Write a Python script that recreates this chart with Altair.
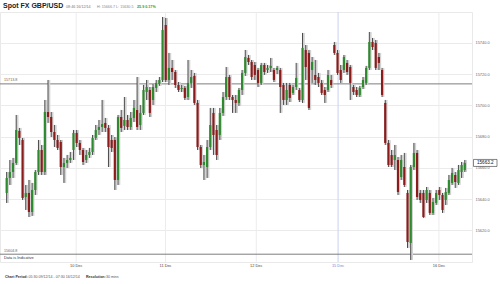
import altair as alt
import pandas as pd

# ---- candle data (GBP/USD spot, x10000, one candle per slot) ----
opens = [
    15644.0, 15653.6, 15657.4, 15663.2, 15683.7, 15677.9, 15641.4, 15644.0, 15631.8, 15645.9,
    15657.4, 15671.5, 15657.4, 15695.8, 15692.6, 15683.0, 15677.9, 15676.6, 15660.6, 15663.2,
    15665.1, 15671.5, 15682.4, 15676.0, 15671.5, 15665.1, 15668.3, 15670.2, 15679.2, 15684.3,
    15686.2, 15688.8, 15685.6, 15677.9, 15677.9, 15652.3, 15692.6, 15686.9, 15690.7, 15686.2,
    15692.0, 15697.1, 15687.5, 15695.2, 15708.6, 15709.9, 15703.5, 15711.2, 15713.7, 15716.3,
    15751.5, 15716.3, 15724.0, 15721.4, 15713.1, 15710.5, 15711.2, 15705.4, 15714.4, 15718.9,
    15701.6, 15673.4, 15661.9, 15660.6, 15673.4, 15695.2, 15684.3, 15681.1, 15695.2, 15705.4,
    15718.2, 15705.4, 15703.5, 15701.6, 15709.9, 15720.8, 15730.4, 15727.8, 15725.9, 15722.7,
    15714.4, 15725.9, 15722.7, 15724.0, 15722.7, 15722.7, 15722.7, 15713.1, 15703.5, 15713.1,
    15708.0, 15711.8, 15709.9, 15703.5, 15735.5, 15733.6, 15722.7, 15719.5, 15718.2, 15714.4,
    15709.9, 15709.9, 15716.3, 15738.7, 15733.6, 15722.7, 15722.7, 15727.2, 15724.6, 15711.8,
    15709.9, 15706.7, 15711.8, 15714.4, 15724.0, 15740.6, 15740.0, 15731.0, 15722.7, 15701.6,
    15676.0, 15668.3, 15665.1, 15665.1, 15654.2, 15660.6, 15644.0, 15612.0, 15660.6, 15669.6,
    15644.0, 15644.0, 15639.5, 15644.0, 15631.2, 15637.6, 15645.9, 15642.7, 15639.5, 15644.0,
    15650.4, 15655.5, 15650.4, 15657.4, 15658.7,
]
closes = [
    15653.6, 15657.4, 15663.2, 15684.3, 15679.2, 15640.8, 15644.0, 15631.8, 15645.9, 15657.4,
    15671.5, 15657.4, 15695.8, 15692.6, 15683.0, 15677.9, 15672.8, 15660.6, 15663.2, 15665.1,
    15666.4, 15682.4, 15676.0, 15671.5, 15663.8, 15668.3, 15670.2, 15679.2, 15684.3, 15686.2,
    15688.1, 15685.6, 15673.4, 15672.8, 15652.3, 15692.6, 15685.6, 15690.7, 15686.2, 15692.0,
    15698.4, 15686.2, 15695.2, 15709.9, 15711.8, 15695.2, 15711.8, 15714.4, 15716.3, 15748.3,
    15716.3, 15724.0, 15721.4, 15713.1, 15709.9, 15711.2, 15704.8, 15714.4, 15718.2, 15701.6,
    15673.4, 15661.9, 15663.8, 15673.4, 15687.5, 15681.1, 15668.3, 15695.2, 15705.4, 15718.2,
    15705.4, 15703.5, 15701.6, 15709.9, 15720.8, 15731.0, 15727.8, 15718.2, 15719.5, 15714.4,
    15725.9, 15721.4, 15724.0, 15725.3, 15716.3, 15724.0, 15711.8, 15703.5, 15709.9, 15704.8,
    15711.8, 15717.6, 15703.5, 15736.8, 15724.6, 15698.4, 15727.8, 15716.3, 15714.4, 15708.0,
    15706.7, 15719.5, 15713.1, 15733.6, 15720.8, 15716.3, 15731.0, 15721.4, 15714.4, 15708.6,
    15706.7, 15711.2, 15716.3, 15724.0, 15740.6, 15737.4, 15724.0, 15727.2, 15706.7, 15676.0,
    15661.9, 15661.9, 15668.3, 15644.6, 15665.1, 15649.1, 15612.6, 15660.6, 15669.6, 15641.4,
    15639.5, 15628.6, 15645.9, 15631.2, 15638.2, 15644.0, 15642.7, 15633.1, 15644.6, 15652.3,
    15656.8, 15651.0, 15658.7, 15661.9, 15663.2,
]
highs = [
    15657.4, 15665.1, 15666.4, 15693.9, 15685.6, 15679.2, 15649.1, 15652.3, 15650.4, 15658.7,
    15677.9, 15674.7, 15703.5, 15716.3, 15695.8, 15687.5, 15681.1, 15677.9, 15666.4, 15668.3,
    15670.2, 15684.3, 15684.3, 15677.9, 15672.8, 15671.5, 15672.8, 15681.1, 15687.5, 15690.7,
    15703.5, 15692.0, 15687.5, 15681.1, 15679.8, 15693.9, 15697.1, 15705.4, 15693.9, 15695.8,
    15703.5, 15718.2, 15700.3, 15713.1, 15716.3, 15711.8, 15713.7, 15716.3, 15718.2, 15756.6,
    15756.0, 15733.6, 15729.1, 15722.7, 15715.0, 15713.1, 15712.5, 15729.1, 15722.7, 15720.8,
    15703.5, 15674.7, 15668.3, 15677.9, 15698.4, 15698.4, 15687.5, 15698.4, 15708.6, 15724.6,
    15719.5, 15706.7, 15706.7, 15711.2, 15722.7, 15735.5, 15732.3, 15729.1, 15727.8, 15724.0,
    15727.2, 15727.2, 15725.9, 15730.4, 15724.0, 15725.3, 15724.0, 15714.4, 15714.4, 15714.4,
    15713.1, 15727.2, 15711.2, 15746.4, 15738.7, 15735.5, 15731.0, 15729.1, 15720.8, 15716.3,
    15711.8, 15722.7, 15719.5, 15740.6, 15735.5, 15725.9, 15732.3, 15729.1, 15725.9, 15713.1,
    15711.8, 15712.5, 15718.2, 15725.3, 15747.0, 15743.2, 15741.9, 15733.6, 15724.0, 15703.5,
    15677.9, 15671.5, 15674.7, 15667.0, 15668.3, 15669.6, 15645.9, 15661.9, 15676.0, 15671.5,
    15645.9, 15645.9, 15647.8, 15645.9, 15640.8, 15645.9, 15647.8, 15644.0, 15647.2, 15655.5,
    15660.0, 15657.4, 15661.9, 15663.8, 15665.1,
]
lows = [
    15637.6, 15649.1, 15653.6, 15661.9, 15674.7, 15639.5, 15633.1, 15628.6, 15629.3, 15642.7,
    15655.5, 15655.5, 15655.5, 15688.8, 15679.8, 15673.4, 15671.5, 15655.5, 15650.4, 15660.0,
    15663.2, 15665.1, 15673.4, 15668.3, 15661.9, 15663.2, 15666.4, 15668.3, 15677.9, 15681.1,
    15683.0, 15683.0, 15660.6, 15670.2, 15645.9, 15649.1, 15683.0, 15684.3, 15684.3, 15684.3,
    15689.4, 15684.3, 15684.3, 15693.9, 15703.5, 15692.6, 15700.3, 15708.6, 15712.5, 15715.0,
    15715.0, 15713.1, 15716.3, 15711.2, 15708.6, 15708.6, 15703.5, 15703.5, 15711.2, 15700.3,
    15671.5, 15660.0, 15652.3, 15653.6, 15671.5, 15668.3, 15665.1, 15677.9, 15693.3, 15703.5,
    15703.5, 15695.2, 15695.2, 15699.7, 15706.7, 15718.9, 15725.9, 15716.3, 15716.3, 15711.8,
    15713.1, 15719.5, 15720.8, 15721.4, 15715.0, 15720.1, 15695.2, 15700.3, 15700.3, 15702.2,
    15706.7, 15709.9, 15702.2, 15701.6, 15716.3, 15697.1, 15714.4, 15713.1, 15711.8, 15706.7,
    15701.6, 15708.6, 15711.2, 15732.3, 15719.5, 15714.4, 15720.8, 15719.5, 15703.5, 15706.7,
    15705.4, 15705.4, 15710.5, 15713.1, 15722.7, 15735.5, 15722.7, 15722.7, 15705.4, 15674.7,
    15660.6, 15660.6, 15658.7, 15642.7, 15652.3, 15647.8, 15608.8, 15601.1, 15658.7, 15639.5,
    15637.6, 15628.0, 15637.6, 15629.9, 15629.9, 15636.3, 15639.5, 15631.2, 15636.3, 15642.7,
    15649.1, 15647.2, 15649.1, 15653.6, 15657.4,
]

# ---- axes / annotations ----
day_labels = ["10 Dec", "11 Dec", "12 Dec", "15 Dec", "16 Dec"]
day_pos = [21.85, 49.94, 78.46, 104.18, 135.88]   # candle-index position of each day start
y_ticks = [15620, 15640, 15660, 15680, 15700, 15720, 15740]
ref_levels = [15713.8, 15604.8]
last_price = [15663.2]
title_text = ["Spot FX GBP/USD"]
quote_time = ["08:46 16/12/14"]
quote_hl = ["H: 15666.7 L: 15630.5"]
quote_chg = ["25.9  0.17%"]
footer_parts = ["Chart Period:", "05:30 09/12/14 - 07:30 16/12/14", "Resolution:", "30 mins"]
indicative = ["Data is Indicative"]

FONT = "Liberation Sans"
GREEN = "#2e8a2e"
RED = "#8c1c1c"

df = pd.DataFrame({"i": list(range(len(opens))), "open": opens, "close": closes,
                   "high": highs, "low": lows})
df["dir"] = ["up" if c >= o else "down" for o, c in zip(opens, closes)]

xs = alt.Scale(domain=[-0.52, 144.7], nice=False, zero=False)
ys = alt.Scale(domain=[15599.8, 15759.8], nice=False, zero=False)
yaxis = alt.Axis(orient="right", values=y_ticks, format=".1f", labelFontSize=3.9,
                 labelColor="#666666", labelFont=FONT, labelPadding=3, ticks=False,
                 domain=False, grid=True, gridColor="#ebebeb", gridWidth=1, title=None)

X = lambda f: alt.X(f, scale=xs, axis=None)
Y = lambda f: alt.Y(f, scale=ys, axis=yaxis)

days = pd.DataFrame({"pos": day_pos, "label": day_labels})
is15 = alt.datum.label == "15 Dec"

grid_v = alt.Chart(days).mark_rule(strokeWidth=1).encode(
    x=X("pos:Q"),
    color=alt.condition(is15, alt.value("#c9d0ef"), alt.value("#ececec")),
)
day_text = alt.Chart(days).mark_text(fontSize=3.9, font=FONT, baseline="middle").encode(
    x=X("pos:Q"), y=alt.value(254), text="label:N",
    color=alt.condition(is15, alt.value("#6f80d0"), alt.value("#444444")),
)

refs = pd.DataFrame({"level": ref_levels})
ref_lines = alt.Chart(refs).mark_rule(color="#7d7d7d", strokeWidth=1).encode(y=Y("level:Q"))
ref_text = alt.Chart(refs).mark_text(align="left", baseline="bottom", dy=-1.5, fontSize=3.7,
                                     font=FONT, color="#666666").encode(
    x=alt.value(4), y=Y("level:Q"), text=alt.Text("level:Q", format=".1f"))

ind = pd.DataFrame({"level": [ref_levels[1]], "t": indicative})
ind_text = alt.Chart(ind).mark_text(align="left", baseline="top", dy=1.5, fontSize=3.9,
                                    font=FONT, color="#333333").encode(
    x=alt.value(4), y=Y("level:Q"), text="t:N")

base = alt.Chart(df)
halo = base.mark_rule(color="#d2d2d2", strokeWidth=2.2, xOffset=1.2).encode(
    x=X("i:Q"), y=Y("low:Q"), y2="high:Q")
wicks = base.mark_rule(color="#4a4a4a", strokeWidth=1).encode(
    x=X("i:Q"), y=Y("low:Q"), y2="high:Q")
bodies = base.mark_bar(width=2.2).encode(
    x=X("i:Q"), y=Y("open:Q"), y2="close:Q",
    color=alt.Color("dir:N", scale=alt.Scale(domain=["up", "down"], range=[GREEN, RED]),
                    legend=None),
)

lastdf = pd.DataFrame({"price": last_price})
last_box = alt.Chart(lastdf).mark_rect(fill="white", stroke="#333333", strokeWidth=0.6,
                                       yOffset=-3.5, y2Offset=3.5).encode(
    x=alt.value(473.5), x2=alt.value(497), y=Y("price:Q"), y2="price:Q")
last_text = alt.Chart(lastdf).mark_text(fontSize=4.6, font=FONT, color="#111111",
                                        baseline="middle").encode(
    x=alt.value(485.3), y=Y("price:Q"), text=alt.Text("price:Q", format=".1f"))

def label(txt, x, y, size, color="#777777", weight="normal"):
    return alt.Chart(pd.DataFrame({"t": txt})).mark_text(
        align="left", baseline="alphabetic", fontSize=size, font=FONT, color=color,
        fontWeight=weight).encode(x=alt.value(x), y=alt.value(y), text="t:N")

header = [
    label(title_text, 3, -3.7, 7, "#222222", "bold"),
    label(quote_time, 66, -4, 3.7, "#777777"),
    label(quote_hl, 97, -4, 3.7, "#888888"),
    label(quote_chg, 137, -4, 3.7, "#2a9a2a", "bold"),
]
footer = [
    label([footer_parts[0]], 5, 265.5, 3.6, "#333333", "bold"),
    label([footer_parts[1]], 28.5, 265.5, 3.6, "#555555"),
    label([footer_parts[2]], 86, 265.5, 3.6, "#333333", "bold"),
    label([footer_parts[3]], 106, 265.5, 3.6, "#555555"),
]

chart = alt.layer(
    grid_v, ref_lines, halo, wicks, bodies, ref_text, ind_text, day_text,
    last_box, last_text, *header, *footer,
).properties(
    width=472, height=250,
    autosize=alt.AutoSizeParams(type="none"),
    padding={"left": 0, "top": 12, "right": 28, "bottom": 22},
).configure_view(stroke="#e9e9e9", strokeWidth=1)

chart.save("out.html", embed_options={"renderer": "svg", "actions": False})
